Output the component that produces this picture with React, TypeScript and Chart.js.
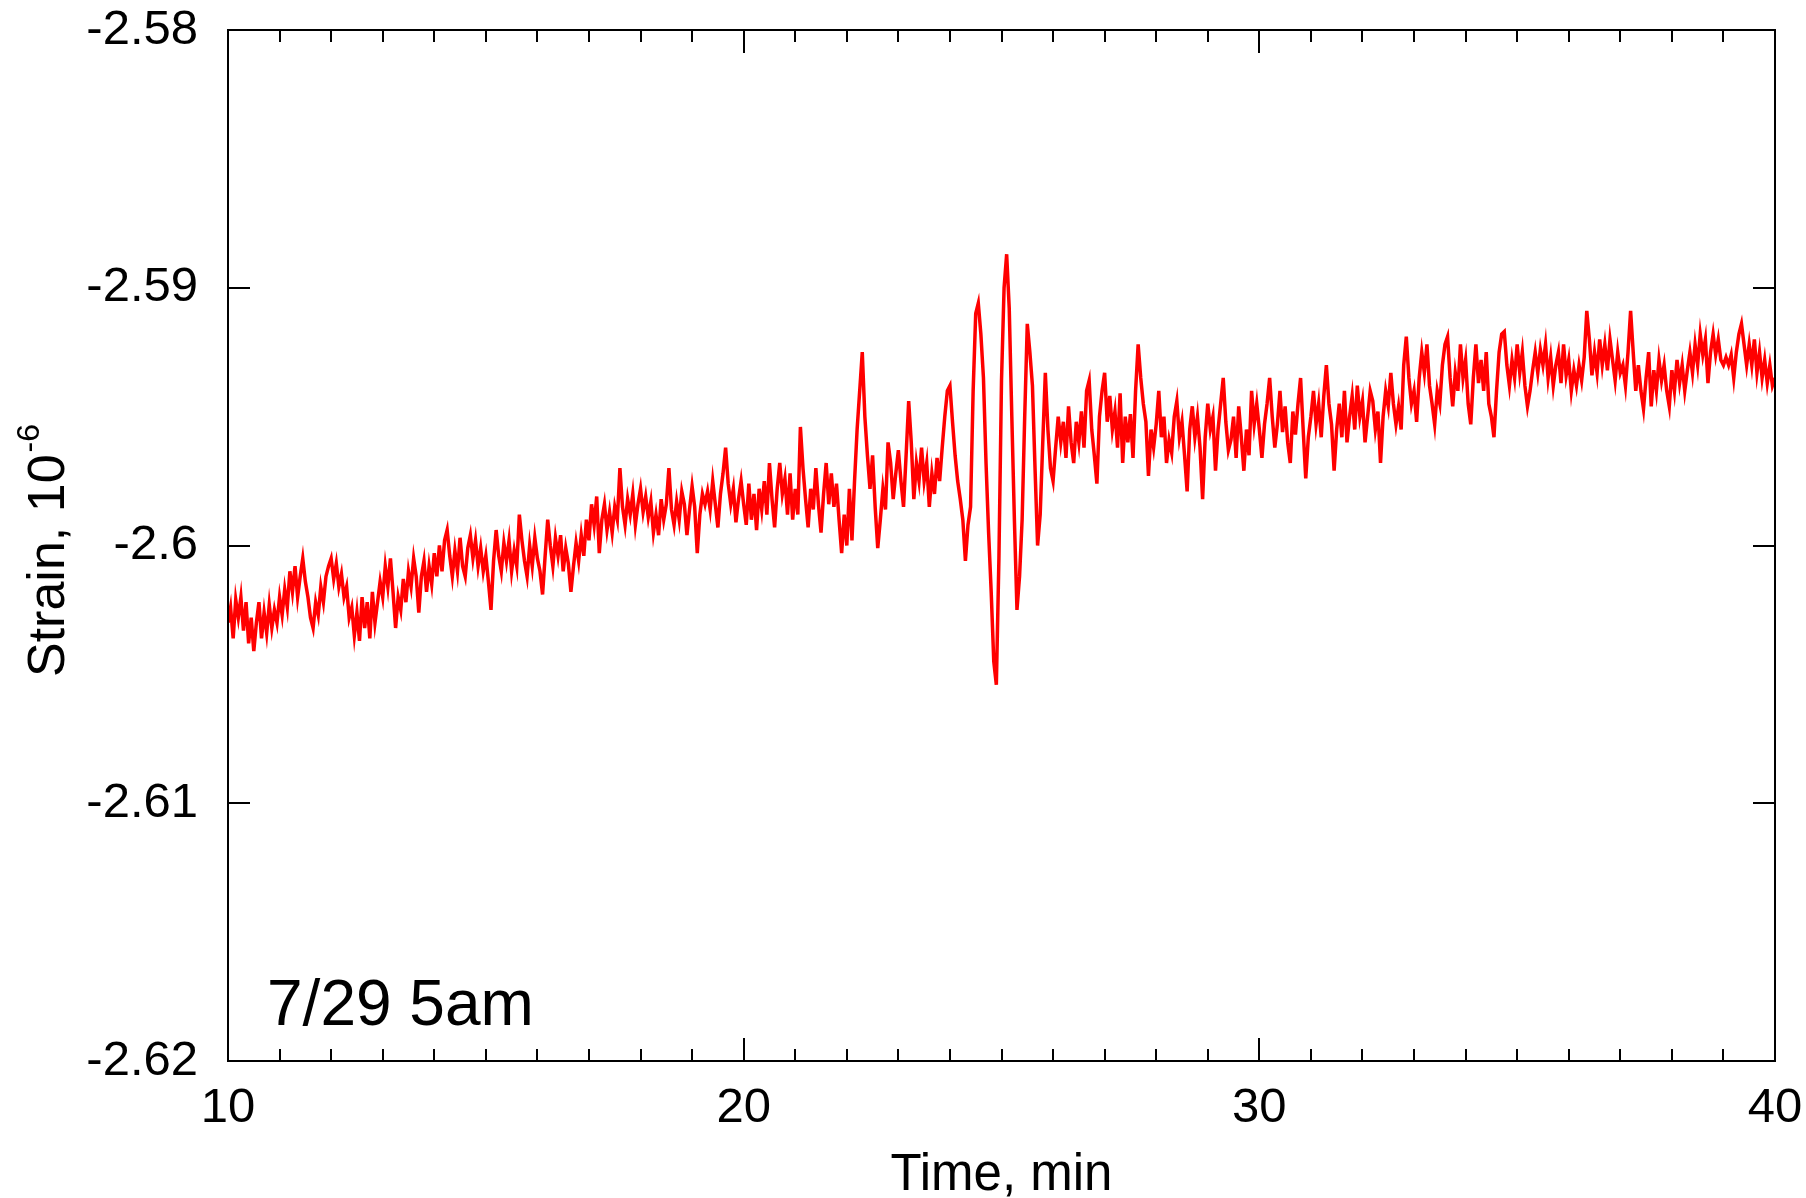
import React, { useEffect, useRef } from "react";
import { Chart, registerables } from "chart.js";

Chart.register(...registerables);

// ---- data ----
const timeStart = 10; // min
const timeStep = 0.05; // min

// strain, 10^-6, at 10.00 ... 19.95 min (10 values per row = 0.5 min)
const strain10to20 = [
  -2.6030, -2.6024, -2.6036, -2.6021, -2.6028, -2.6020, -2.6033, -2.6022, -2.6038, -2.6028,
  -2.6041, -2.6030, -2.6022, -2.6036, -2.6026, -2.6034, -2.6023, -2.6032, -2.6025, -2.6030,
  -2.6020, -2.6027, -2.6017, -2.6024, -2.6010, -2.6018, -2.6008, -2.6020, -2.6012, -2.6005,
  -2.6014, -2.6020, -2.6028, -2.6032, -2.6022, -2.6027, -2.6016, -2.6022, -2.6012, -2.6008,
  -2.6005, -2.6013, -2.6007, -2.6016, -2.6011, -2.6020, -2.6016, -2.6028, -2.6024, -2.6035,
  -2.6026, -2.6037, -2.6020, -2.6032, -2.6022, -2.6036, -2.6018, -2.6030, -2.6022, -2.6014,
  -2.6020, -2.6008, -2.6016, -2.6005, -2.6018, -2.6032, -2.6020, -2.6025, -2.6013, -2.6022,
  -2.6010, -2.6016, -2.6005, -2.6012, -2.6026, -2.6012, -2.6006, -2.6018, -2.6008, -2.6015,
  -2.6003, -2.6012, -2.6000, -2.6010, -2.5998, -2.5994, -2.6004, -2.6012, -2.6002, -2.6010,
  -2.5997, -2.6008, -2.6012, -2.6001, -2.5996, -2.6005, -2.5998, -2.6008, -2.6001, -2.6010,
  -2.6004, -2.6014, -2.6025, -2.6006, -2.5994, -2.6004, -2.6010, -2.5999, -2.6006, -2.5998,
  -2.6010, -2.6002, -2.6008, -2.5988, -2.5998, -2.6006, -2.6012, -2.6000, -2.6008, -2.5997,
  -2.6005, -2.6010, -2.6019, -2.6004, -2.5990, -2.6000, -2.6008, -2.5997, -2.6004, -2.5996,
  -2.6010, -2.6001, -2.6007, -2.6018, -2.6008, -2.5999, -2.6006, -2.5996, -2.6004, -2.5990,
  -2.5998, -2.5984, -2.5992, -2.5981, -2.6003, -2.5990, -2.5984, -2.5994, -2.5987, -2.5995,
  -2.5985, -2.5990, -2.5970, -2.5985, -2.5992, -2.5982, -2.5988, -2.5980, -2.5992, -2.5984,
  -2.5978, -2.5987, -2.5981, -2.5989, -2.5983, -2.5995, -2.5988, -2.5996, -2.5982, -2.5990,
  -2.5984, -2.5970, -2.5986, -2.5992, -2.5983, -2.5990, -2.5979, -2.5984, -2.5996, -2.5986,
  -2.5977, -2.5985, -2.6003, -2.5988, -2.5980, -2.5984, -2.5979, -2.5986, -2.5975, -2.5984,
  -2.5993, -2.5980, -2.5972, -2.5962, -2.5976, -2.5984, -2.5978, -2.5991, -2.5982, -2.5975,
];

// strain at 20.00 ... 29.95 min
const strain20to30 = [
  -2.5984, -2.5992, -2.5976, -2.5990, -2.5980, -2.5994, -2.5978, -2.5986, -2.5975, -2.5988,
  -2.5968, -2.5982, -2.5993, -2.5978, -2.5968, -2.5980, -2.5974, -2.5988, -2.5972, -2.5990,
  -2.5978, -2.5988, -2.5954, -2.5970, -2.5982, -2.5993, -2.5978, -2.5986, -2.5970, -2.5984,
  -2.5995, -2.5980, -2.5968, -2.5984, -2.5972, -2.5985, -2.5976, -2.5990, -2.6003, -2.5988,
  -2.6000, -2.5978, -2.5998, -2.5975, -2.5955, -2.5940, -2.5925, -2.5950, -2.5965, -2.5978,
  -2.5965, -2.5985, -2.6001, -2.5990, -2.5978, -2.5986, -2.5960, -2.5968, -2.5982, -2.5972,
  -2.5963, -2.5975, -2.5985, -2.5965, -2.5944, -2.5960, -2.5982, -2.5968, -2.5975, -2.5962,
  -2.5975, -2.5968, -2.5985, -2.5972, -2.5980, -2.5966, -2.5975, -2.5962, -2.5950, -2.5940,
  -2.5938, -2.5952, -2.5965, -2.5975, -2.5982, -2.5990, -2.6006, -2.5992, -2.5985, -2.5940,
  -2.5910, -2.5906, -2.5918, -2.5935, -2.5968, -2.5995, -2.6018, -2.6045, -2.6054, -2.6005,
  -2.5936, -2.5900, -2.5887, -2.5908, -2.5950, -2.5990, -2.6025, -2.6012, -2.5990, -2.5950,
  -2.5914, -2.5925, -2.5938, -2.5970, -2.6000, -2.5988, -2.5960, -2.5933, -2.5955, -2.5970,
  -2.5975, -2.5962, -2.5950, -2.5960, -2.5952, -2.5966, -2.5946, -2.5960, -2.5968, -2.5952,
  -2.5960, -2.5948, -2.5962, -2.5940, -2.5936, -2.5955, -2.5965, -2.5976, -2.5950, -2.5940,
  -2.5933, -2.5952, -2.5942, -2.5955, -2.5948, -2.5962, -2.5941, -2.5968, -2.5950, -2.5960,
  -2.5949, -2.5966, -2.5940, -2.5922, -2.5935, -2.5945, -2.5952, -2.5973, -2.5955, -2.5962,
  -2.5953, -2.5940, -2.5958, -2.5950, -2.5968, -2.5959, -2.5964, -2.5950, -2.5944, -2.5958,
  -2.5952, -2.5965, -2.5979, -2.5955, -2.5946, -2.5958, -2.5950, -2.5962, -2.5982, -2.5958,
  -2.5945, -2.5955, -2.5950, -2.5971, -2.5955, -2.5945, -2.5935, -2.5952, -2.5963, -2.5959,
  -2.5950, -2.5966, -2.5946, -2.5958, -2.5971, -2.5955, -2.5965, -2.5940, -2.5953, -2.5945,
];

// strain at 30.00 ... 40.00 min
const strain30to40 = [
  -2.5955, -2.5966, -2.5953, -2.5945, -2.5935, -2.5950, -2.5962, -2.5953, -2.5940, -2.5956,
  -2.5946, -2.5960, -2.5968, -2.5948, -2.5957, -2.5945, -2.5935, -2.5955, -2.5974, -2.5958,
  -2.5950, -2.5940, -2.5953, -2.5945, -2.5958, -2.5942, -2.5930, -2.5945, -2.5953, -2.5971,
  -2.5955, -2.5945, -2.5958, -2.5940, -2.5960, -2.5950, -2.5942, -2.5955, -2.5938, -2.5950,
  -2.5944, -2.5960, -2.5950, -2.5940, -2.5944, -2.5955, -2.5948, -2.5968, -2.5950, -2.5940,
  -2.5946, -2.5933, -2.5945, -2.5953, -2.5946, -2.5955, -2.5930, -2.5919, -2.5935, -2.5945,
  -2.5940, -2.5952, -2.5935, -2.5925, -2.5933, -2.5922, -2.5938, -2.5945, -2.5953, -2.5940,
  -2.5945, -2.5930, -2.5922, -2.5919, -2.5935, -2.5946, -2.5933, -2.5940, -2.5922, -2.5935,
  -2.5928, -2.5945, -2.5953, -2.5935, -2.5922, -2.5937, -2.5928, -2.5940, -2.5925, -2.5945,
  -2.5950, -2.5958, -2.5940, -2.5925, -2.5918, -2.5917, -2.5930, -2.5938, -2.5928, -2.5935,
  -2.5922, -2.5933, -2.5925, -2.5938, -2.5946, -2.5940, -2.5932, -2.5925, -2.5933, -2.5924,
  -2.5930, -2.5922, -2.5935, -2.5927, -2.5938, -2.5930, -2.5925, -2.5937, -2.5922, -2.5934,
  -2.5928, -2.5940, -2.5932, -2.5938, -2.5930, -2.5936, -2.5927, -2.5909, -2.5920, -2.5934,
  -2.5925, -2.5933, -2.5920, -2.5930, -2.5922, -2.5932, -2.5920, -2.5928, -2.5936, -2.5925,
  -2.5933, -2.5930, -2.5938, -2.5925, -2.5909, -2.5925, -2.5940, -2.5930, -2.5940, -2.5947,
  -2.5935, -2.5925, -2.5946, -2.5932, -2.5940, -2.5928, -2.5936, -2.5930, -2.5940, -2.5946,
  -2.5932, -2.5940, -2.5928, -2.5937, -2.5930, -2.5940, -2.5932, -2.5925, -2.5933, -2.5922,
  -2.5930, -2.5918, -2.5926, -2.5920, -2.5937, -2.5925, -2.5918, -2.5926, -2.5920, -2.5928,
  -2.5930, -2.5927, -2.5930, -2.5926, -2.5935, -2.5925, -2.5918, -2.5914, -2.5922, -2.5930,
  -2.5922, -2.5930, -2.5920, -2.5933, -2.5925, -2.5935, -2.5928, -2.5937, -2.5930, -2.5938,
  -2.5935,
];

const xMajorTicks = [10, 20, 30, 40];
const xMinorTicks = [
  11, 12, 13, 14, 15, 16, 17, 18, 19, 21, 22, 23, 24, 25, 26, 27, 28, 29,
  31, 32, 33, 34, 35, 36, 37, 38, 39,
];
const yTicks = [-2.58, -2.59, -2.6, -2.61, -2.62];

const xTitle = "Time, min";
const yTitle = "Strain, 10";
const yTitleExp = "-6";
const annotation = "7/29 5am";

const FONT = "'Liberation Sans', Arial, Helvetica, sans-serif";

export default function App() {
  const canvasRef = useRef<HTMLCanvasElement | null>(null);

  useEffect(() => {
    const canvas = canvasRef.current;
    if (!canvas) return;

    const strain = [...strain10to20, ...strain20to30, ...strain30to40];
    const points = strain.map((v, i) => ({
      x: Number((timeStart + i * timeStep).toFixed(2)),
      y: v,
    }));

    const framePlugin = {
      id: "frame",
      afterDraw(chart: any) {
        const { ctx, chartArea: a, scales } = chart;
        const xs = scales.x;
        const ys = scales.y;
        ctx.save();
        ctx.strokeStyle = "#000";
        ctx.lineWidth = 2;
        ctx.strokeRect(a.left, a.top, a.right - a.left, a.bottom - a.top);
        ctx.beginPath();
        const drawX = (t: number, len: number) => {
          const px = Math.round(xs.getPixelForValue(t));
          ctx.moveTo(px, a.bottom);
          ctx.lineTo(px, a.bottom - len);
          ctx.moveTo(px, a.top);
          ctx.lineTo(px, a.top + len);
        };
        xMajorTicks.forEach((t) => drawX(t, 23));
        xMinorTicks.forEach((t) => drawX(t, 12));
        yTicks.forEach((v) => {
          const py = Math.round(ys.getPixelForValue(v));
          ctx.moveTo(a.left, py);
          ctx.lineTo(a.left + 22, py);
          ctx.moveTo(a.right, py);
          ctx.lineTo(a.right - 22, py);
        });
        ctx.stroke();

        ctx.fillStyle = "#000";
        // x title
        ctx.font = `51px ${FONT}`;
        ctx.textAlign = "center";
        ctx.textBaseline = "alphabetic";
        ctx.fillText(xTitle, (a.left + a.right) / 2, 1190);

        // y title with superscript
        ctx.save();
        ctx.translate(64, (a.top + a.bottom) / 2 + 6);
        ctx.rotate(-Math.PI / 2);
        ctx.font = `52px ${FONT}`;
        const w1 = ctx.measureText(yTitle).width;
        ctx.font = `32px ${FONT}`;
        const w2 = ctx.measureText(yTitleExp).width;
        const start = -(w1 + w2) / 2;
        ctx.textAlign = "left";
        ctx.font = `52px ${FONT}`;
        ctx.fillText(yTitle, start, 0);
        ctx.font = `32px ${FONT}`;
        ctx.fillText(yTitleExp, start + w1 + 2, -25);
        ctx.restore();

        // annotation
        ctx.font = `64px ${FONT}`;
        ctx.textAlign = "left";
        ctx.fillText(annotation, a.left + 39, a.bottom - 36);
        ctx.restore();
      },
    };

    const chart = new Chart(canvas, {
      type: "line",
      data: {
        datasets: [
          {
            data: points,
            borderColor: "#ff0000",
            borderWidth: 3.5,
            pointRadius: 0,
            tension: 0,
            fill: false,
          },
        ],
      },
      options: {
        animation: false,
        responsive: false,
        devicePixelRatio: 1,
        parsing: false as any,
        layout: { padding: { left: 0, top: 30, right: 31, bottom: 0 } },
        plugins: {
          legend: { display: false },
          tooltip: { enabled: false },
          title: { display: false },
        },
        scales: {
          x: {
            type: "linear",
            min: 10,
            max: 40,
            grid: { display: false, drawTicks: false, tickLength: 0 },
            border: { display: false },
            ticks: {
              stepSize: 10,
              padding: 18,
              color: "#000",
              font: { family: FONT, size: 49 },
              maxRotation: 0,
              callback: (v: any) => String(v),
            },
            afterFit: (scale: any) => {
              scale.height = 1198 - 1061;
              scale.paddingLeft = 0;
              scale.paddingRight = 0;
              scale.paddingTop = 0;
              scale.paddingBottom = 0;
            },
          },
          y: {
            type: "linear",
            min: -2.62,
            max: -2.58,
            grid: { display: false, drawTicks: false, tickLength: 0 },
            border: { display: false },
            ticks: {
              stepSize: 0.01,
              padding: 30,
              color: "#000",
              font: { family: FONT, size: 49 },
              callback: (v: any) => String(Number(Number(v).toFixed(2))),
            },
            afterFit: (scale: any) => {
              scale.width = 228;
              scale.paddingLeft = 0;
              scale.paddingRight = 0;
              scale.paddingTop = 0;
              scale.paddingBottom = 0;
            },
          },
        },
      },
      plugins: [framePlugin],
    } as any);

    return () => {
      chart.destroy();
    };
  }, []);

  return (
    <div style={{ position: "absolute", left: 0, top: 0, width: 1806, height: 1198, background: "#fff" }}>
      <canvas ref={canvasRef} width={1806} height={1198} style={{ display: "block" }} />
    </div>
  );
}
